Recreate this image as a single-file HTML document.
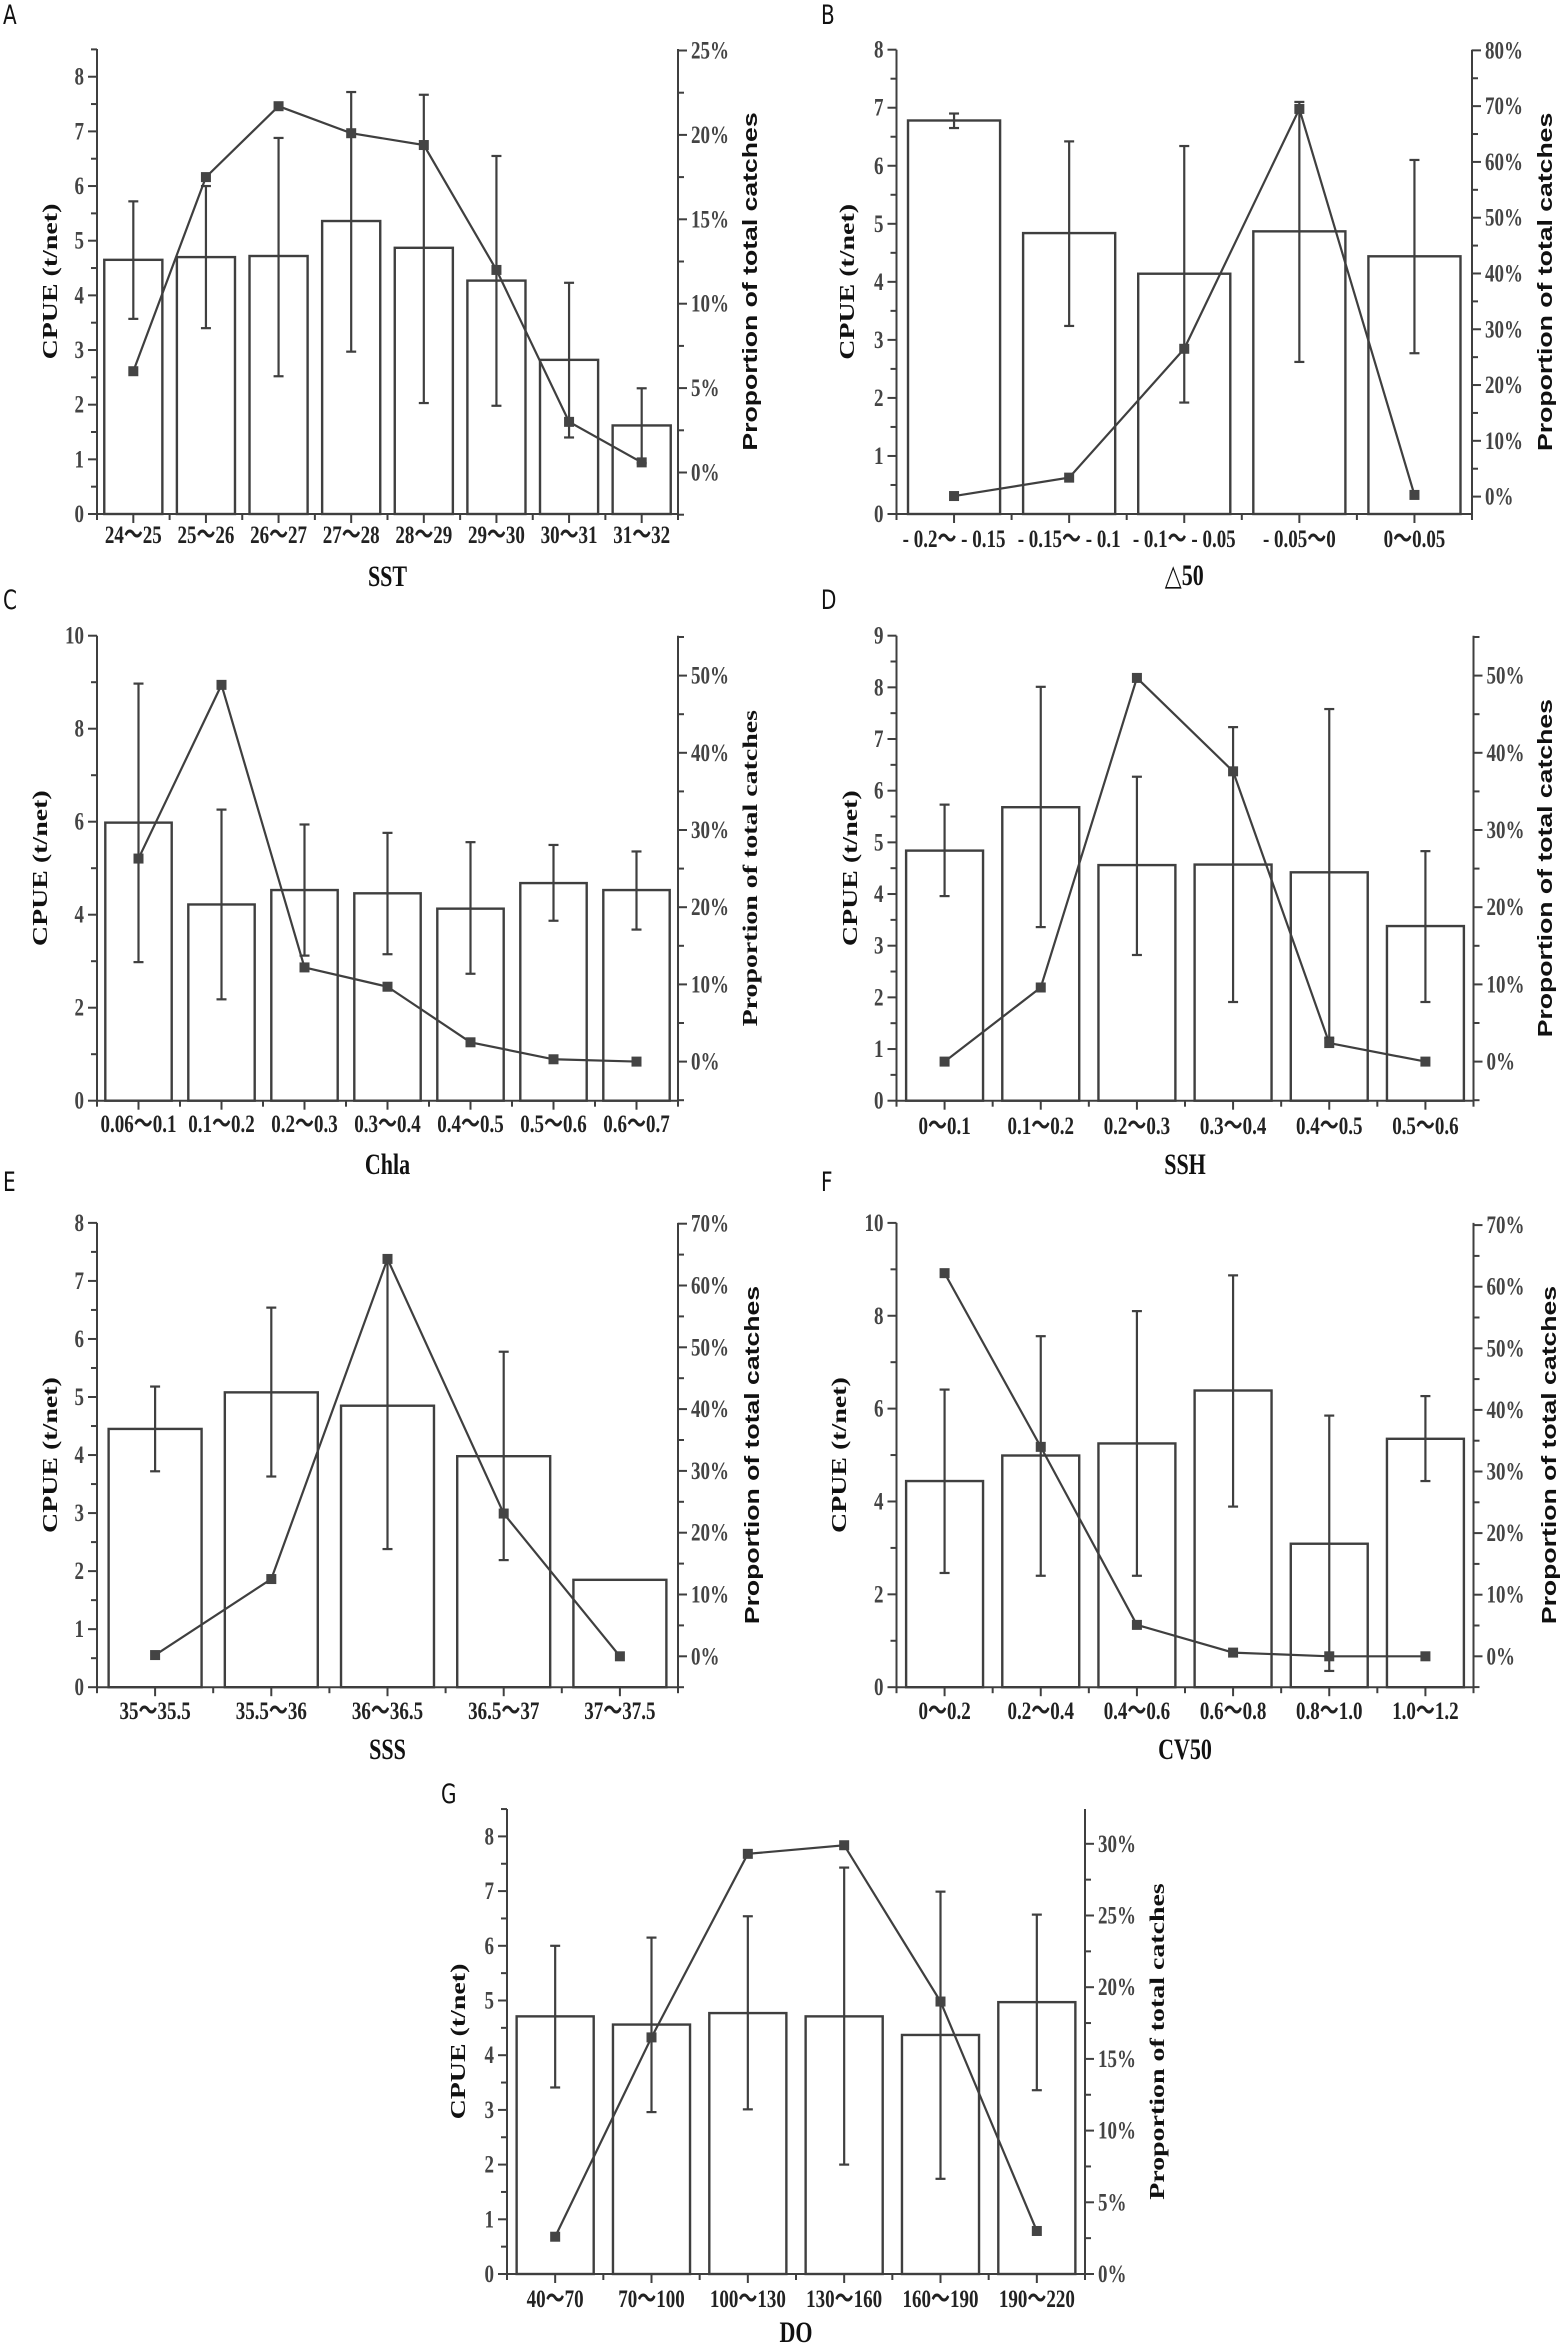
<!DOCTYPE html>
<html><head><meta charset="utf-8"><style>
html,body{margin:0;padding:0;background:#fff;}
svg{display:block;}
</style></head><body>
<svg id="fig" width="1565" height="2345" viewBox="0 0 1565 2345" xmlns="http://www.w3.org/2000/svg"></svg>
<script>
// ---- Data ----
const catA = ["24～25","25～26","26～27","27～28","28～29","29～30","30～31","31～32"];
const cpueA = [4.65,4.7,4.72,5.36,4.87,4.27,2.82,1.62];
const errHiA = [5.72,6.0,6.88,7.72,7.67,6.55,4.23,2.3];
const errLoA = [3.57,3.4,2.52,2.97,2.03,1.98,1.4,0.93];
const pctA = [6.0,17.5,21.7,20.1,19.4,12.0,3.0,0.6];

const catB = ["- 0.2～ - 0.15","- 0.15～ - 0.1","- 0.1～ - 0.05","- 0.05～0","0～0.05"];
const cpueB = [6.78,4.84,4.14,4.87,4.44];
const errHiB = [6.9,6.42,6.34,7.1,6.1];
const errLoB = [6.65,3.24,1.92,2.62,2.77];
const pctB = [0.1,3.4,26.5,69.5,0.3];

const catC = ["0.06～0.1","0.1～0.2","0.2～0.3","0.3～0.4","0.4～0.5","0.5～0.6","0.6～0.7"];
const cpueC = [5.98,4.22,4.53,4.46,4.13,4.68,4.53];
const errHiC = [8.97,6.26,5.94,5.76,5.56,5.5,5.36];
const errLoC = [2.98,2.18,3.12,3.15,2.73,3.87,3.68];
const pctC = [26.3,48.8,12.2,9.7,2.5,0.3,0.0];

const catD = ["0～0.1","0.1～0.2","0.2～0.3","0.3～0.4","0.4～0.5","0.5～0.6"];
const cpueD = [4.84,5.68,4.56,4.57,4.42,3.38];
const errHiD = [5.73,8.01,6.27,7.23,7.58,4.83];
const errLoD = [3.96,3.36,2.82,1.91,1.22,1.91];
const pctD = [0.0,9.6,49.7,37.6,2.4,0.0];

const catE = ["35～35.5","35.5～36","36～36.5","36.5～37","37～37.5"];
const cpueE = [4.45,5.08,4.85,3.98,1.85];
const errHiE = [5.18,6.54,7.38,5.78,1.85];
const errLoE = [3.72,3.63,2.38,2.19,1.85];
const pctE = [0.2,12.5,64.3,23.1,0.0];

const catF = ["0～0.2","0.2～0.4","0.4～0.6","0.6～0.8","0.8～1.0","1.0～1.2"];
const cpueF = [4.44,4.99,5.25,6.39,3.09,5.35];
const errHiF = [6.41,7.56,8.1,8.87,5.85,6.27];
const errLoF = [2.46,2.4,2.4,3.89,0.35,4.44];
const pctF = [62.2,34.0,5.1,0.6,0.0,0.0];

const catG = ["40～70","70～100","100～130","130～160","160～190","190～220"];
const cpueG = [4.71,4.56,4.77,4.71,4.37,4.97];
const errHiG = [6.0,6.15,6.54,7.43,6.99,6.57];
const errLoG = [3.41,2.96,3.01,2.0,1.74,3.36];
const pctG = [2.6,16.5,29.3,29.9,19.0,3.0];

// ---- Layout ----
const NS = "http://www.w3.org/2000/svg";
const svg = document.getElementById('fig');
const INK = "#3f3f3f";
const SY = 1.33; // vertical stretch of text in the reference
function mk(tag, attrs, parent){
  const e = document.createElementNS(NS, tag);
  for (const k in attrs) e.setAttribute(k, attrs[k]);
  (parent||svg).appendChild(e);
  return e;
}
// horizontal text stretched vertically; (x,y) = baseline anchor
function htext(parent, x, y, str, attrs){
  const a = Object.assign({x:0, y:0, transform:'translate('+x+' '+y+') scale(1 '+SY+')'}, attrs);
  const t = mk('text', a, parent);
  t.textContent = str;
  return t;
}
// rotated text (reads bottom-to-top) stretched along its length
function vtext(parent, x, y, str, attrs){
  const a = Object.assign({x:0, y:0, 'text-anchor':'middle', transform:'translate('+x+' '+y+') rotate(-90) scale('+SY+' 1)'}, attrs);
  const t = mk('text', a, parent);
  t.textContent = str;
  return t;
}
function panel(p){
  const g = mk('g', {});
  
  
  const n = p.cats.length;
  const step = (p.x1 - p.x0) / n;
  const xc = i => p.x0 + step*(i+0.5);
  const yL = v => p.yb - v*p.k;
  const yR = v => p.r0 - v*p.rk;
  const bw = step*0.8;
  for (let i=0;i<n;i++){
    const b = mk('rect', {x:xc(i)-bw/2, y:yL(p.vals[i]), width:bw, height:p.yb-yL(p.vals[i]), fill:'#fff', stroke:INK, 'stroke-width':2.4}, g);
    
    
  }
  for (let i=0;i<n;i++){
    if (p.hi[i] === p.lo[i]) continue;
    const eg = mk('g', {stroke:INK, 'stroke-width':2.2}, g);
    
    
    const x = xc(i);
    mk('line', {x1:x, x2:x, y1:yL(p.hi[i]), y2:yL(p.lo[i])}, eg);
    mk('line', {x1:x-5, x2:x+5, y1:yL(p.hi[i]), y2:yL(p.hi[i])}, eg);
    mk('line', {x1:x-5, x2:x+5, y1:yL(p.lo[i]), y2:yL(p.lo[i])}, eg);
  }
  const pts = p.pct.map((v,i)=> xc(i)+','+yR(v)).join(' ');
  const ln = mk('polyline', {points:pts, fill:'none', stroke:INK, 'stroke-width':2.2}, g);
  
  
  for (let i=0;i<n;i++){
    const m = mk('rect', {x:xc(i)-5, y:yR(p.pct[i])-5, width:10, height:10, fill:'#444'}, g);
    
    
  }
  const ax = mk('g', {stroke:INK, 'stroke-width':2, fill:'none'}, g);
  
  
  mk('line', {x1:p.x0, x2:p.x0, y1:p.yb+1, y2:p.top}, ax);
  mk('line', {x1:p.x1, x2:p.x1, y1:p.yb+1, y2:p.top}, ax);
  mk('line', {x1:p.x0-1, x2:p.x1+1, y1:p.yb, y2:p.yb}, ax);
  for (let i=0;i<=n;i++){ const x=p.x0+step*i; mk('line',{x1:x,x2:x,y1:p.yb,y2:p.yb+6},ax); }
  for (let i=0;i<n;i++){ mk('line',{x1:xc(i),x2:xc(i),y1:p.yb,y2:p.yb+9},ax); }
  const lmax = (p.yb - p.top)/p.k;
  for (let j=0;j*p.lMinor<=lmax+0.02;j++){
    const v=j*p.lMinor, y=yL(v);
    const major = Math.abs(v/p.lStep - Math.round(v/p.lStep))<1e-6;
    mk('line',{x1:p.x0-(major?9:6),x2:p.x0,y1:y,y2:y},ax);
    if (major){
      const t = htext(g, p.x0-13, y+8, String(v), {'text-anchor':'end','font-family':'"Liberation Serif",serif','font-weight':'bold','font-size':19,fill:'#444'});
      
      
    }
  }
  const rmin = (p.r0 - p.yb)/p.rk, rmaxv = (p.r0 - p.top)/p.rk;
  for (let j=Math.ceil(rmin/p.rMinor - 0.02); j*p.rMinor<=rmaxv+0.05; j++){
    const v=j*p.rMinor, y=yR(v);
    const major = v>=-1e-6 && Math.abs(v/p.rStep - Math.round(v/p.rStep))<1e-6;
    mk('line',{x1:p.x1,x2:p.x1+(major?9:6),y1:y,y2:y},ax);
    if (major){
      const t = htext(g, p.x1+13, y+8, Math.round(v) + '%', {'font-family':'"Liberation Serif",serif','font-weight':'bold','font-size':19,fill:'#444'});
      
      
    }
  }
  for (let i=0;i<n;i++){
    const t = htext(g, xc(i), p.xly, p.cats[i], {'text-anchor':'middle','font-family':'"Liberation Serif","Noto Sans CJK SC",serif','font-weight':'bold','font-size':19,fill:'#222'});
    
    
  }
  const xt = htext(g, (p.x0+p.x1)/2, p.xty, p.xtitle, {'text-anchor':'middle','font-family':'"Liberation Serif","DejaVu Sans",serif','font-weight':'bold','font-size':22,fill:'#111'});
  
  
  const cy = (p.yb+p.top)/2;
  const yt = vtext(g, p.ytx, cy, 'CPUE (t/net)', {'font-family':'"Liberation Serif",serif','font-weight':'bold','font-size':21,fill:'#111'});
  
  
  const rt = vtext(g, p.rtx, cy, 'Proportion of total catches', {'font-family':p.rserif?'"Liberation Serif",serif':'"Liberation Sans",sans-serif','font-weight':'bold','font-size':p.rserif?21:20,fill:'#111'});
  
  
  const lt = htext(g, p.lx, p.ly, p.letter, {'font-family':'"DejaVu Sans","Liberation Sans",sans-serif','font-size':20,fill:'#111'});
  
  
}
panel({letter:'A',cats:catA,vals:cpueA,hi:errHiA,lo:errLoA,pct:pctA,x0:97,x1:678,yb:514,top:49,k:54.66,r0:472.5,rk:16.88,lStep:1,lMinor:0.5,rStep:5,rMinor:2.5,xly:543,xty:586,xtitle:'SST',ytx:57,rtx:757,lx:3,ly:24});
panel({letter:'B',cats:catB,vals:cpueB,hi:errHiB,lo:errLoB,pct:pctB,x0:896.5,x1:1472,yb:514,top:49.7,k:58.04,r0:496.6,rk:5.578,lStep:1,lMinor:0.5,rStep:10,rMinor:5,xly:547,xty:585,xtitle:'△50',ytx:854,rtx:1552,lx:821,ly:24});
panel({letter:'C',cats:catC,vals:cpueC,hi:errHiC,lo:errLoC,pct:pctC,x0:97,x1:678,yb:1100.7,top:635.7,k:46.5,r0:1061.6,rk:7.72,lStep:2,lMinor:1,rStep:10,rMinor:5,xly:1132,xty:1174,xtitle:'Chla',ytx:47,rtx:757,rserif:true,lx:3,ly:609});
panel({letter:'D',cats:catD,vals:cpueD,hi:errHiD,lo:errLoD,pct:pctD,x0:896.5,x1:1473.5,yb:1100.7,top:635.7,k:51.67,r0:1061.6,rk:7.72,lStep:1,lMinor:0.5,rStep:10,rMinor:5,xly:1134,xty:1174,xtitle:'SSH',ytx:857,rtx:1552,lx:821,ly:609});
panel({letter:'E',cats:catE,vals:cpueE,hi:errHiE,lo:errLoE,pct:pctE,x0:97,x1:678,yb:1687.2,top:1222.9,k:58.04,r0:1656.3,rk:6.18,lStep:1,lMinor:0.5,rStep:10,rMinor:5,xly:1719,xty:1759,xtitle:'SSS',ytx:57,rtx:759,lx:3,ly:1191});
panel({letter:'F',cats:catF,vals:cpueF,hi:errHiF,lo:errLoF,pct:pctF,x0:896.5,x1:1473.5,yb:1687.2,top:1222.9,k:46.43,r0:1656.3,rk:6.16,lStep:2,lMinor:1,rStep:10,rMinor:5,xly:1719,xty:1759,xtitle:'CV50',ytx:846,rtx:1556,lx:821,ly:1191});
panel({letter:'G',cats:catG,vals:cpueG,hi:errHiG,lo:errLoG,pct:pctG,x0:507,x1:1085,yb:2274,top:1809,k:54.7,r0:2274,rk:14.34,lStep:1,lMinor:0.5,rStep:5,rMinor:2.5,xly:2307,xty:2342,xtitle:'DO',ytx:465,rtx:1164,rserif:true,lx:441,ly:1803});
</script>
</body></html>
